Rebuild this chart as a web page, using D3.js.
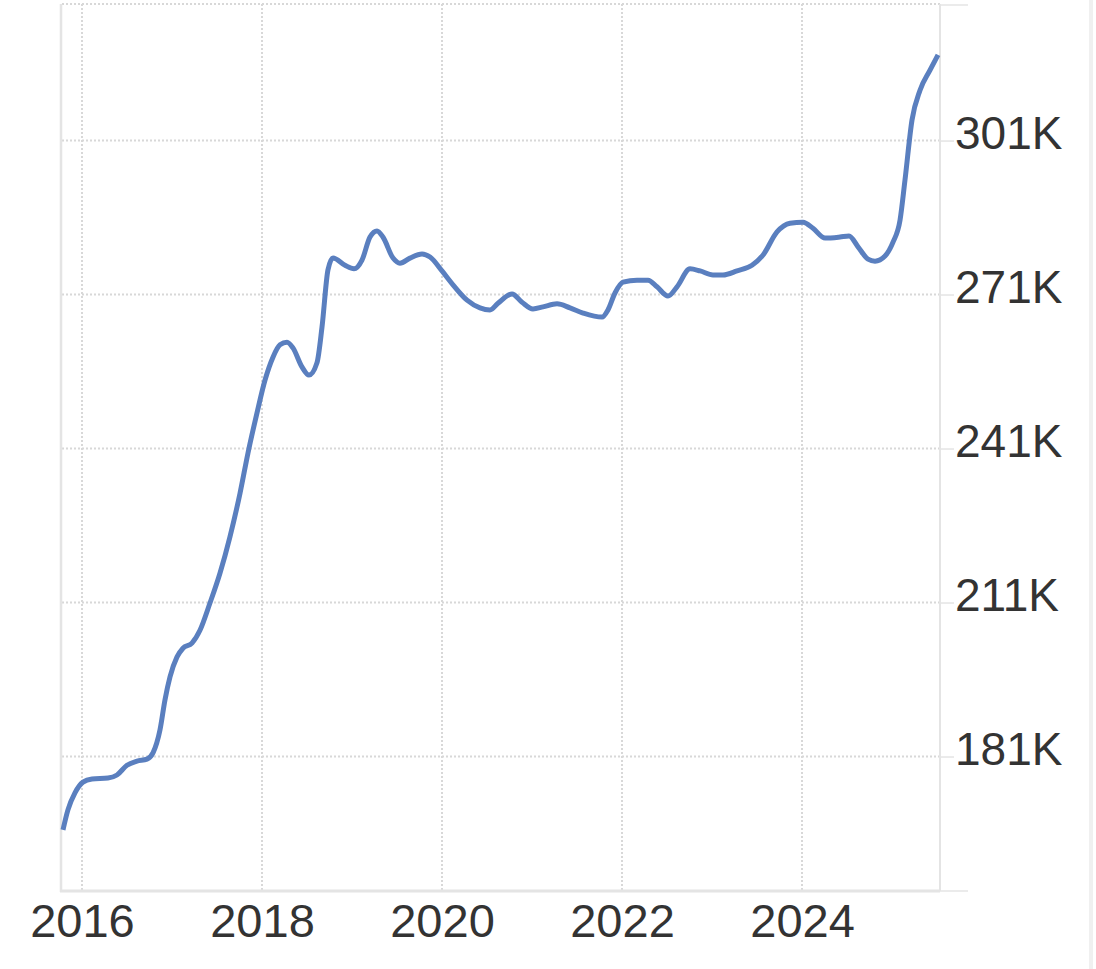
<!DOCTYPE html>
<html>
<head>
<meta charset="utf-8">
<script src="https://cdn.jsdelivr.net/npm/d3@7"></script>
<style>
  html, body { margin: 0; padding: 0; background: #fff; }
  svg { display: block; }
</style>
</head>
<body>
<svg id="chart" width="1096" height="969"></svg>
<script>
// ---- data (decimal years, thousands) ----
const years = [
  2015.789, 2015.844, 2015.922, 2016.011, 2016.111, 2016.289, 2016.389, 2016.5, 2016.611, 2016.722,
  2016.789, 2016.867, 2016.922, 2016.978, 2017.056, 2017.122, 2017.222, 2017.311, 2017.422, 2017.533,
  2017.644, 2017.756, 2017.844, 2017.944, 2018.033, 2018.122, 2018.2, 2018.278, 2018.344, 2018.444,
  2018.522, 2018.611, 2018.667, 2018.733, 2018.789, 2018.922, 2019.022, 2019.111, 2019.2, 2019.278,
  2019.344, 2019.456, 2019.533, 2019.644, 2019.778, 2019.867, 2020.0, 2020.122, 2020.278, 2020.422,
  2020.533, 2020.622, 2020.778, 2020.889, 2021.011, 2021.122, 2021.278, 2021.422, 2021.567, 2021.778,
  2021.844, 2021.922, 2022.011, 2022.167, 2022.289, 2022.389, 2022.511, 2022.611, 2022.756, 2022.867,
  2023.011, 2023.122, 2023.278, 2023.444, 2023.567, 2023.722, 2023.867, 2024.011, 2024.122, 2024.256,
  2024.422, 2024.522, 2024.622, 2024.733, 2024.811, 2024.922, 2025.011, 2025.089, 2025.144, 2025.222,
  2025.311, 2025.422, 2025.511
];
const values = [
  166.7, 170.6, 173.9, 176.0, 176.6, 176.8, 177.4, 179.3, 180.1, 180.5,
  181.7, 186.2, 192.0, 196.5, 200.4, 202.1, 203.1, 205.6, 210.9, 216.7,
  223.8, 232.3, 240.1, 247.9, 254.3, 258.8, 261.2, 261.7, 260.6, 256.9,
  255.3, 257.7, 264.7, 275.8, 278.1, 276.7, 276.0, 277.7, 282.2, 283.4,
  282.2, 278.1, 277.1, 278.1, 278.9, 278.3, 275.6, 272.9, 269.9, 268.4,
  268.0, 269.3, 271.1, 269.5, 268.2, 268.6, 269.2, 268.4, 267.4, 266.6,
  268.0, 271.3, 273.4, 273.8, 273.8, 272.5, 270.7, 272.5, 276.0, 275.6,
  274.8, 274.8, 275.6, 276.7, 278.7, 283.2, 284.9, 285.1, 283.9, 282.0,
  282.2, 282.4, 280.3, 277.9, 277.5, 278.5, 281.2, 285.5, 293.3, 305.0,
  310.8, 314.7, 317.7
];
const xTicks = [2016, 2018, 2020, 2022, 2024];
const yTicks = [181, 211, 241, 271, 301];
const yTickLabels = ["181K", "211K", "241K", "271K", "301K"];
const xDomain = [2015.778, 2025.533];
const yDomain = [154.8, 327.6];

// ---- layout ----
const svg = d3.select("#chart");
const L = 62, R = 940, T = 4, B = 891;
const x = d3.scaleLinear().domain(xDomain).range([L, R]);
const y = d3.scaleLinear().domain(yDomain).range([B, T]);
const font = "'Liberation Sans', Arial, Helvetica, sans-serif";

svg.append("rect").attr("width", 1096).attr("height", 969).attr("fill", "#fff");
// page separator at far right
svg.append("rect").attr("x", 1089).attr("y", 0).attr("width", 4).attr("height", 969).attr("fill", "#f0f0f0");

const gridColor = "#d8d8d8";
const g = svg.append("g");

// horizontal dotted grid (ticks + top)
g.selectAll("line.hg").data(yTicks.concat([yDomain[1]])).join("line")
  .attr("class", "hg")
  .attr("x1", L).attr("x2", R)
  .attr("y1", d => y(d)).attr("y2", d => y(d))
  .attr("stroke", gridColor).attr("stroke-width", 2).attr("stroke-dasharray", "2,2");

// vertical dotted grid
g.selectAll("line.vg").data(xTicks).join("line")
  .attr("class", "vg")
  .attr("x1", d => x(d)).attr("x2", d => x(d))
  .attr("y1", T).attr("y2", B)
  .attr("stroke", gridColor).attr("stroke-width", 2).attr("stroke-dasharray", "2,2");

// axis frame lines
const axisColor = "#e4e4e4";
g.append("line").attr("x1", L - 1).attr("x2", L - 1).attr("y1", T).attr("y2", B + 1)
  .attr("stroke", axisColor).attr("stroke-width", 2.5);
g.append("line").attr("x1", R).attr("x2", R).attr("y1", T).attr("y2", B)
  .attr("stroke", axisColor).attr("stroke-width", 2);
g.append("line").attr("x1", L - 2).attr("x2", R).attr("y1", B).attr("y2", B)
  .attr("stroke", axisColor).attr("stroke-width", 3);
g.append("line").attr("x1", R).attr("x2", 968).attr("y1", B).attr("y2", B)
  .attr("stroke", axisColor).attr("stroke-width", 1.5);
g.append("line").attr("x1", R).attr("x2", 968).attr("y1", y(yDomain[1]) + 1).attr("y2", y(yDomain[1]) + 1)
  .attr("stroke", axisColor).attr("stroke-width", 1.5);

// right axis via d3
const yAxis = d3.axisRight(y).tickValues(yTicks)
  .tickFormat((d, i) => yTickLabels[i]).tickSize(14).tickPadding(1);
const ya = svg.append("g").attr("transform", `translate(${R},0)`).call(yAxis);
ya.select(".domain").remove();
ya.selectAll(".tick line").attr("stroke", axisColor).attr("stroke-width", 1.5);
ya.selectAll(".tick text")
  .attr("fill", "#333")
  .attr("font-family", font)
  .attr("font-size", 46)
  .attr("dy", "0.18em");

// bottom axis via d3
const xAxis = d3.axisBottom(x).tickValues(xTicks).tickFormat(d3.format("d")).tickSize(0).tickPadding(13);
const xa = svg.append("g").attr("transform", `translate(0,${B})`).call(xAxis);
xa.select(".domain").remove();
xa.selectAll(".tick text")
  .attr("fill", "#333")
  .attr("font-family", font)
  .attr("font-size", 47);

// line
const data = years.map((t, i) => ({ t, v: values[i] }));
const line = d3.line().x(d => x(d.t)).y(d => y(d.v)).curve(d3.curveMonotoneX);
svg.append("path").datum(data)
  .attr("d", line)
  .attr("fill", "none")
  .attr("stroke", "#5a7fbf")
  .attr("stroke-width", 5)
  .attr("stroke-linejoin", "round")
  .attr("stroke-linecap", "butt");
</script>
</body>
</html>
